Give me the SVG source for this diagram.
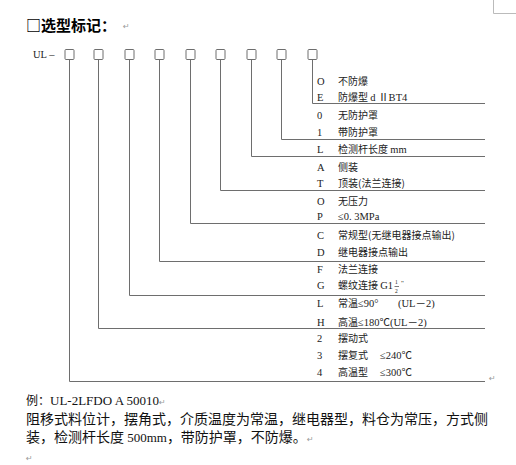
<svg xmlns="http://www.w3.org/2000/svg" width="516" height="465" viewBox="0 0 516 465">
<style>
.box{fill:#fff;stroke:#6e6e6e;stroke-width:1}
.con{fill:none;stroke:#6e6e6e;stroke-width:1}
.t{font-family:"Liberation Serif","Noto Sans CJK SC",serif;font-size:10.5px;fill:#222}
.c{font-family:"Noto Sans CJK SC","Liberation Serif",sans-serif;font-size:10px;fill:#222}
.ret{font-family:"DejaVu Sans",sans-serif;font-size:8px;fill:#999}
.body{font-family:"Noto Sans CJK SC",sans-serif;font-size:14px;fill:#111}
.lat{font-family:"Liberation Serif",serif;font-size:13px;fill:#111}
</style>
<rect width="516" height="465" fill="#fff"/>
<path d="M493.5,0 V13.5 H516" fill="none" stroke="#bbb"/>
<g id="title">
<text x="26" y="31" style="font-family:'Noto Sans CJK SC',sans-serif;font-size:15px;font-weight:bold;fill:#000">□选型标记：</text>
<text class="ret" x="123" y="29">↵</text>
</g>
<g id="prefix"><text class="t" x="33" y="58">UL –</text></g>
<g id="n1"><rect class="box" x="65" y="49.5" width="9" height="10" rx="1"/></g>
<g id="n2"><rect class="box" x="94" y="49.5" width="9" height="10" rx="1"/></g>
<g id="n3"><rect class="box" x="125" y="49.5" width="9" height="10" rx="1"/></g>
<g id="n4"><rect class="box" x="155" y="49.5" width="9" height="10" rx="1"/></g>
<g id="n5"><rect class="box" x="186" y="49.5" width="9" height="10" rx="1"/></g>
<g id="n6"><rect class="box" x="216" y="49.5" width="9" height="10" rx="1"/></g>
<g id="n7"><rect class="box" x="247" y="49.5" width="9" height="10" rx="1"/></g>
<g id="n8"><rect class="box" x="277" y="49.5" width="9" height="10" rx="1"/></g>
<g id="n9"><rect class="box" x="308" y="49.5" width="9" height="10" rx="1"/></g>
<g id="connectors">
<path class="con" d="M69.5,59.5 V381.5 H485"/>
<path class="con" d="M98.5,59.5 V328.5 H485"/>
<path class="con" d="M129.5,59.5 V295.5 H485"/>
<path class="con" d="M159.5,59.5 V261.5 H485"/>
<path class="con" d="M190.5,59.5 V223.5 H485"/>
<path class="con" d="M220.5,59.5 V190.5 H485"/>
<path class="con" d="M251.5,59.5 V156.5 H485"/>
<path class="con" d="M281.5,59.5 V139.5 H485"/>
<path class="con" d="M312.5,59.5 V103.5 H485"/>
</g>
<g id="options">
<text class="t" x="317" y="85">O</text><text class="c" x="338" y="85">不防爆</text>
<text class="t" x="317" y="101">E</text><text class="c" x="338" y="101">防爆型 <tspan class="t">d ⅡBT4</tspan></text>
<text class="t" x="317" y="119">0</text><text class="c" x="338" y="119">无防护罩</text>
<text class="t" x="317" y="136">1</text><text class="c" x="338" y="136">带防护罩</text>
<text class="t" x="317" y="153">L</text><text class="c" x="338" y="153">检测杆长度 <tspan class="t">mm</tspan></text>
<text class="t" x="317" y="171">A</text><text class="c" x="338" y="171">侧装</text>
<text class="t" x="317" y="187">T</text><text class="c" x="338" y="187">顶装(法兰连接)</text>
<text class="t" x="317" y="205">O</text><text class="c" x="338" y="205">无压力</text>
<text class="t" x="317" y="220">P</text><text class="t" x="338" y="220">≤0. 3MPa</text>
<text class="t" x="317" y="239">C</text><text class="c" x="338" y="239">常规型(无继电器接点输出)</text>
<text class="t" x="317" y="256">D</text><text class="c" x="338" y="256">继电器接点输出</text>
<text class="t" x="317" y="273">F</text><text class="c" x="338" y="273">法兰连接</text>
<text class="t" x="317" y="289">G</text><text class="c" x="338" y="289">螺纹连接 <tspan class="t">G1</tspan></text>
<text class="t" x="395" y="284" style="font-size:5.5px">1</text>
<path d="M394.5,286.5 H399" stroke="#222" stroke-width="0.6"/>
<text class="t" x="395" y="293" style="font-size:5.5px">2</text>
<text class="t" x="401" y="285" style="font-size:7px">"</text>
<text class="t" x="317" y="307">L</text><text class="c" x="338" y="307">常温<tspan class="t">≤90°</tspan></text><text class="t" x="398" y="307">(UL－2)</text>
<text class="t" x="317" y="326">H</text><text class="c" x="338" y="326">高温<tspan class="t">≤180℃(UL－2)</tspan></text>
<text class="t" x="317" y="342">2</text><text class="c" x="338" y="342">摆动式</text>
<text class="t" x="317" y="359">3</text><text class="c" x="338" y="359">摆复式</text><text class="t" x="380" y="359">≤240℃</text>
<text class="t" x="317" y="376">4</text><text class="c" x="338" y="376">高温型</text><text class="t" x="380" y="376">≤300℃</text>
<text class="ret" x="489" y="381">↵</text>
</g>
<g id="example">
<text x="26" y="405"><tspan class="body" style="font-size:12px">例：</tspan><tspan class="lat">UL-2LFDO A 50010</tspan><tspan class="ret">↵</tspan></text>
<text class="body" x="26" y="424">阻移式料位计，摆角式，介质温度为常温，继电器型，料仓为常压，方式侧</text>
<text class="body" x="26" y="442">装，检测杆长度 <tspan class="lat">500mm</tspan>，带防护罩，不防爆。<tspan class="ret">↵</tspan></text>
<text class="ret" x="26" y="461">↵</text>
</g>
</svg>
